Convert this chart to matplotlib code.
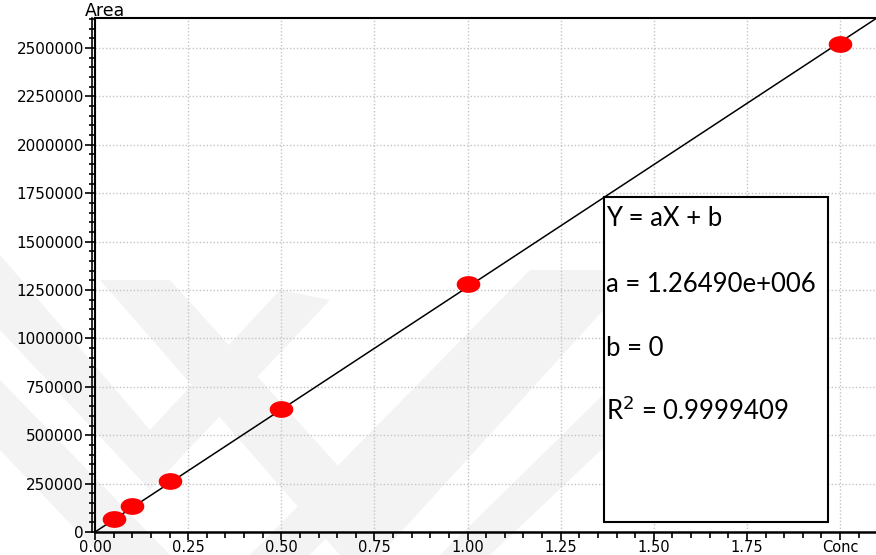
import numpy as np
import matplotlib
matplotlib.use("Agg")
import matplotlib.pyplot as plt
from matplotlib.path import Path
from matplotlib.patches import Rectangle, Polygon
from matplotlib.ticker import MultipleLocator, FixedLocator

# Data
conc = [0.05, 0.10, 0.20, 0.50, 1.00, 2.00]
area = [67000, 132000, 262000, 636000, 1281000, 2519000]
slope = 1.26490e6
intercept = 0.0
x_ticks = [0.00, 0.25, 0.50, 0.75, 1.00, 1.25, 1.50, 1.75, 2.00]
x_labels = ["0.00", "0.25", "0.50", "0.75", "1.00", "1.25", "1.50", "1.75", "Conc"]
y_ticks = [0, 250000, 500000, 750000, 1000000, 1250000, 1500000, 1750000,
           2000000, 2250000, 2500000]
box_lines = ["Y = aX + b", "a = 1.26490e+006", "b = 0", r"R$^2$ = 0.9999409"]

W, H = 876, 555
fig = plt.figure(figsize=(W / 100, H / 100), dpi=100)
fig.patch.set_facecolor("white")

# faint watermark chevrons behind the plot (figure pixel coords)
wm = "#f3f3f3"
def fpoly(pts):
    p = Polygon([(x / W, 1 - y / H) for x, y in pts], closed=True,
                transform=fig.transFigure, facecolor=wm, edgecolor="none", zorder=-5)
    fig.add_artist(p)

fpoly([(0, 255), (0, 330), (150, 490), (330, 300), (280, 290), (150, 430)])
fpoly([(0, 380), (0, 450), (100, 555), (170, 555)])
fpoly([(100, 280), (170, 280), (360, 490), (570, 270), (640, 270), (380, 555), (340, 555)])
fpoly([(250, 555), (530, 270), (580, 270), (310, 555)])
fpoly([(440, 555), (720, 280), (760, 300), (490, 555)])

x0, x1 = 95, 876
y_top, y_bot = 18, 532
ax = fig.add_axes([x0 / W, 1 - y_bot / H, (x1 - x0) / W, (y_bot - y_top) / H])
ax.set_facecolor("none")
px_per_x = (840 - 95) / 2.0
px_per_y = (532 - 48) / 2.5e6
ax.set_xlim(0, (x1 - x0) / px_per_x)
ax.set_ylim(0, (y_bot - y_top) / px_per_y)

ax.grid(True, which="major", color="#c4c4c4", linestyle=(0, (1, 1.5)), linewidth=1.0, zorder=1)
ax.set_axisbelow(True)

# regression line
xl = np.array([0.0, ax.get_xlim()[1]])
ax.plot(xl, slope * xl + intercept, color="black", linewidth=1.1, zorder=3)

# ellipse marker
t = np.linspace(0, 2 * np.pi, 60)
verts = np.column_stack([1.45 * np.cos(t), np.sin(t)])
ell = Path(verts, closed=True)
ax.plot(conc, area, linestyle="none", marker=ell, markersize=16,
        markerfacecolor="#ff0000", markeredgecolor="#ff0000", zorder=4)

# ticks
ax.xaxis.set_major_locator(FixedLocator(x_ticks))
ax.set_xticklabels(x_labels)
ax.xaxis.set_minor_locator(MultipleLocator(0.05))
ax.yaxis.set_major_locator(FixedLocator(y_ticks))
ax.set_yticklabels([str(v) for v in y_ticks])
ax.yaxis.set_minor_locator(MultipleLocator(50000))
ax.tick_params(which="major", direction="out", length=7, width=1.2, colors="black",
               labelsize=11, pad=1)
ax.tick_params(axis="x", which="major", length=6, labelsize=10.5, pad=0)
ax.tick_params(which="minor", direction="out", length=4, width=1.2, colors="black")
for lab in ax.get_xticklabels() + ax.get_yticklabels():
    lab.set_fontfamily("DejaVu Sans")

ax.spines["right"].set_visible(False)
ax.spines["left"].set_linewidth(1.5)
ax.spines["bottom"].set_linewidth(1.8)
ax.spines["top"].set_linewidth(1.5)
# double left spine
ax.axvline(-3 / px_per_x, color="black", linewidth=1.2, clip_on=False, zorder=5)

fig.text(85 / W, 1 - 16 / H, "Area", fontsize=12.5, family="DejaVu Sans",
         ha="left", va="baseline")

# equation box
bx0, bx1 = (604 - x0) / px_per_x, (828 - x0) / px_per_x
by0, by1 = (532 - 522) / px_per_y, (532 - 197) / px_per_y
ax.add_patch(Rectangle((bx0, by0), bx1 - bx0, by1 - by0, facecolor="white",
                       edgecolor="black", linewidth=1.5, zorder=6))
ys = [218, 284, 349, 411]
for txt, yp in zip(box_lines, ys):
    ax.text((606 - x0) / px_per_x, (532 - yp) / px_per_y, txt, fontsize=18.5,
            family=["Lato", "DejaVu Sans"], ha="left", va="center", zorder=7)

fig.savefig("out.png", dpi=100)
